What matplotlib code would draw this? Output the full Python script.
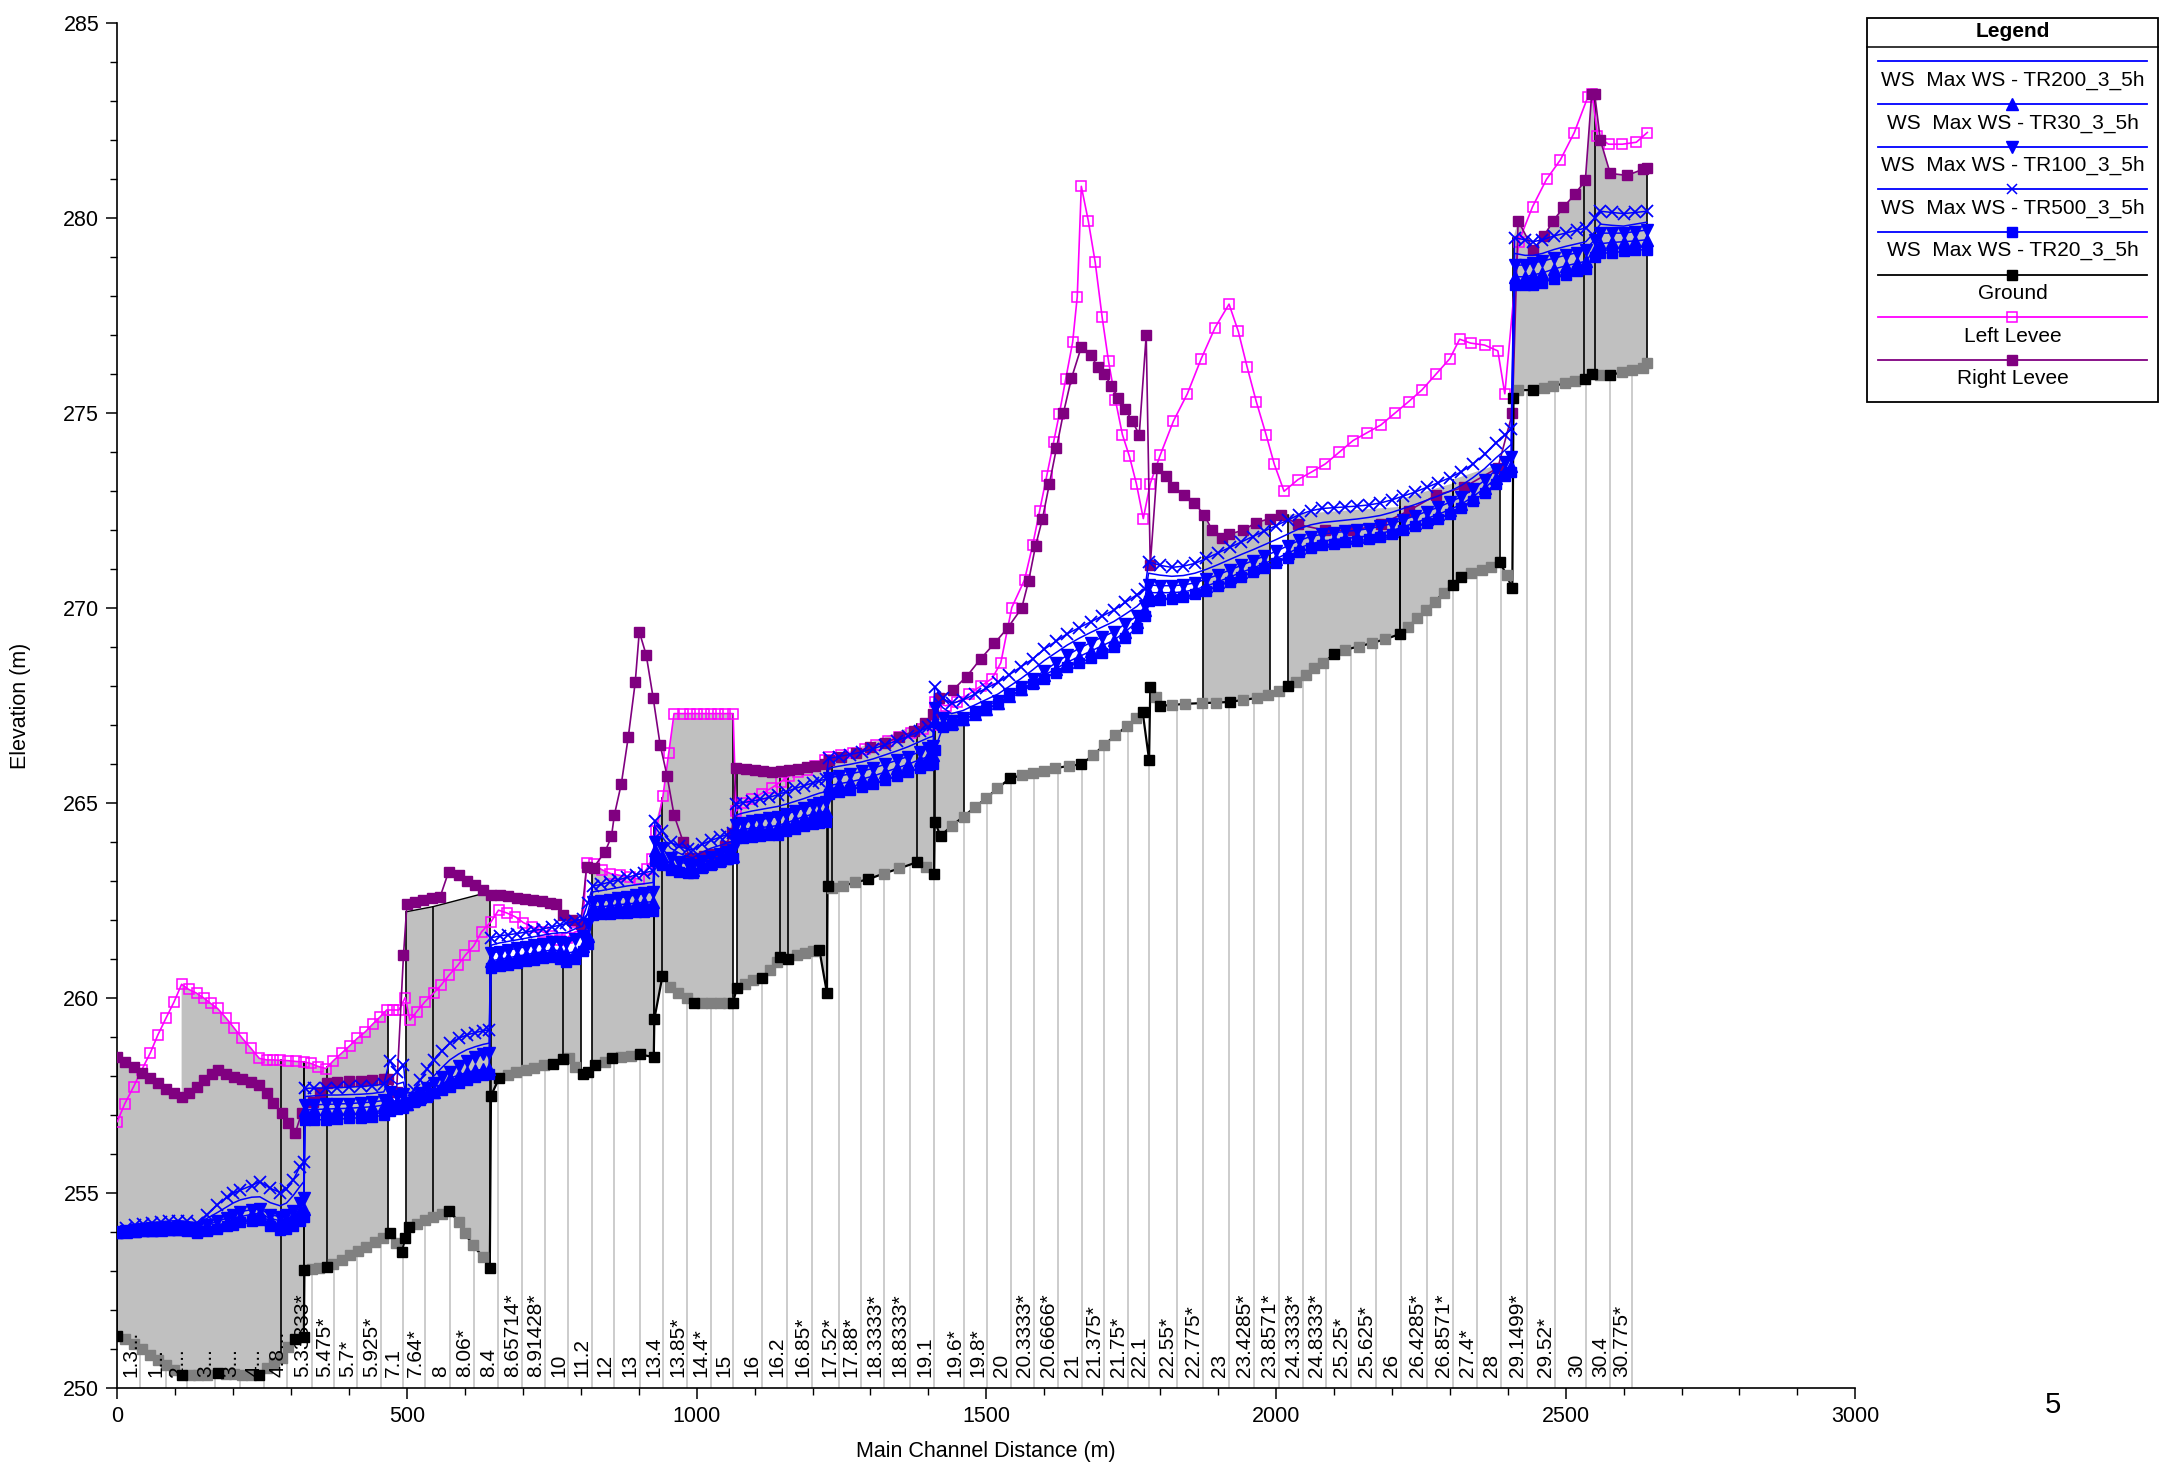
import numpy as np
import matplotlib
matplotlib.use("Agg")
import matplotlib.pyplot as plt
from matplotlib.lines import Line2D
from matplotlib.patches import Polygon, Rectangle
from matplotlib.ticker import MultipleLocator

plt.rcParams['font.family'] = ['Liberation Sans', 'DejaVu Sans']

# ---------------- data ----------------
GROUND_X = [0, 13, 28, 42, 56, 71, 84, 98, 111, 126,
            140, 154, 173, 187, 201, 215, 230, 245, 258, 270,
            284, 295, 307, 322, 323, 336, 349, 362, 373, 387,
            402, 416, 430, 445, 459, 471, 481, 491, 497, 504,
            517, 531, 545, 560, 573, 589, 600, 614, 631, 643,
            645, 659, 674, 689, 705, 720, 736, 752, 770, 779,
            790, 804, 813, 825, 842, 854, 870, 887, 903, 926,
            927, 941, 954, 968, 983, 996, 1010, 1025, 1040, 1055,
            1063, 1069, 1083, 1098, 1112, 1127, 1138, 1144, 1158, 1173,
            1187, 1201, 1212, 1225, 1226, 1233, 1253, 1273, 1296, 1323,
            1350, 1380, 1396, 1410, 1411, 1421, 1440, 1461, 1481, 1500,
            1519, 1541, 1562, 1581, 1600, 1619, 1643, 1664, 1685, 1704,
            1723, 1743, 1758, 1770, 1781, 1783, 1793, 1799, 1820, 1843,
            1873, 1897, 1920, 1943, 1967, 1986, 2005, 2020, 2035, 2051,
            2066, 2082, 2100, 2120, 2143, 2166, 2189, 2214, 2228, 2244,
            2259, 2274, 2290, 2305, 2319, 2336, 2355, 2371, 2386, 2398,
            2408, 2410, 2418, 2444, 2462, 2479, 2499, 2516, 2534, 2545,
            2560, 2577, 2597, 2615, 2634, 2641]
GROUND_Z = [251.35, 251.26, 251.13, 251.0, 250.85, 250.73, 250.6, 250.47, 250.34, 250.33,
            250.33, 250.35, 250.38, 250.37, 250.36, 250.35, 250.34, 250.33, 250.51, 250.64,
            250.77, 251.07, 251.26, 251.31, 253.03, 253.06, 253.08, 253.1, 253.18, 253.29,
            253.41, 253.52, 253.63, 253.74, 253.85, 253.97, 253.72, 253.5, 253.85, 254.14,
            254.22, 254.31, 254.4, 254.48, 254.55, 254.27, 253.97, 253.67, 253.37, 253.08,
            257.5, 257.95, 258.03, 258.1, 258.17, 258.22, 258.28, 258.32, 258.44, 258.48,
            258.25, 258.05, 258.1, 258.28, 258.36, 258.46, 258.5, 258.53, 258.56, 258.49,
            259.47, 260.57, 260.28, 260.13, 260.0, 259.88, 259.88, 259.88, 259.88, 259.88,
            259.88, 260.26, 260.37, 260.47, 260.52, 260.72, 260.92, 261.06, 261.01, 261.11,
            261.16, 261.21, 261.23, 260.13, 262.88, 262.83, 262.88, 262.97, 263.05, 263.2,
            263.33, 263.49, 263.37, 263.19, 264.53, 264.16, 264.42, 264.66, 264.91, 265.13,
            265.38, 265.64, 265.72, 265.77, 265.84, 265.9, 265.96, 266.0, 266.24, 266.5,
            266.75, 266.98, 267.18, 267.33, 266.11, 267.97, 267.73, 267.5, 267.52, 267.55,
            267.57, 267.58, 267.6, 267.65, 267.7, 267.78, 267.87, 268.0, 268.12, 268.29,
            268.46, 268.59, 268.83, 268.94, 269.02, 269.11, 269.21, 269.34, 269.53, 269.74,
            269.96, 270.17, 270.4, 270.6, 270.81, 270.9, 270.98, 271.07, 271.2, 270.85,
            270.51, 275.4, 275.59, 275.6, 275.65, 275.7, 275.77, 275.83, 275.88, 276.01,
            275.98, 275.98, 276.05, 276.1, 276.16, 276.3]
GROUND_REAL = [1, 0, 0, 0, 0, 0, 0, 0, 1, 0,
               0, 0, 1, 0, 0, 0, 0, 1, 0, 0,
               0, 0, 1, 1, 1, 0, 0, 1, 0, 0,
               0, 0, 0, 0, 0, 1, 0, 1, 1, 1,
               0, 0, 0, 0, 1, 0, 0, 0, 0, 1,
               1, 1, 0, 0, 0, 0, 0, 1, 1, 0,
               0, 1, 1, 1, 0, 1, 0, 0, 1, 1,
               1, 1, 0, 0, 0, 1, 0, 0, 0, 0,
               1, 1, 0, 0, 1, 0, 0, 1, 1, 0,
               0, 0, 1, 1, 1, 0, 0, 0, 1, 0,
               0, 1, 0, 1, 1, 1, 0, 0, 0, 0,
               0, 1, 0, 0, 0, 0, 0, 1, 0, 0,
               0, 0, 0, 1, 1, 1, 0, 1, 0, 0,
               0, 0, 1, 0, 0, 0, 0, 1, 0, 0,
               0, 0, 1, 0, 0, 0, 0, 1, 0, 0,
               0, 0, 0, 1, 1, 0, 0, 0, 1, 0,
               1, 1, 0, 1, 0, 0, 0, 0, 1, 1,
               0, 1, 0, 0, 0, 0]

LL_X = [0, 13, 28, 42, 57, 70, 84, 98, 111, 123,
        137, 150, 161, 173, 188, 202, 216, 230, 245, 258,
        269, 281, 295, 309, 322, 334, 347, 360, 373, 387,
        401, 414, 428, 441, 454, 465, 476, 486, 497, 505,
        517, 531, 546, 559, 573, 588, 601, 615, 629, 645,
        658, 672, 687, 701, 715, 735, 750, 764, 776, 790,
        803, 810, 822, 836, 851, 868, 885, 900, 914, 923,
        930, 942, 952, 961, 977, 989, 1001, 1013, 1025, 1037,
        1049, 1063, 1068, 1080, 1095, 1112, 1130, 1145, 1160, 1175,
        1190, 1205, 1222, 1228, 1250, 1270, 1290, 1310, 1330, 1350,
        1370, 1390, 1408, 1411, 1430, 1450, 1470, 1490, 1510, 1525,
        1544, 1566, 1580, 1592, 1604, 1616, 1626, 1637, 1649, 1657,
        1664, 1676, 1688, 1700, 1711, 1723, 1735, 1747, 1759, 1771,
        1783, 1800, 1823, 1847, 1871, 1895, 1919, 1935, 1950, 1966,
        1983, 1997, 2014, 2038, 2062, 2085, 2109, 2133, 2157, 2181,
        2205, 2229, 2252, 2276, 2300, 2317, 2336, 2360, 2383, 2395,
        2419, 2443, 2467, 2491, 2515, 2538, 2546, 2555, 2574, 2598,
        2622, 2641]
LL_Z = [256.84, 257.3, 257.73, 258.16, 258.6, 259.06, 259.49, 259.91, 260.36, 260.23,
        260.13, 260.0, 259.87, 259.74, 259.49, 259.23, 258.97, 258.73, 258.46, 258.42,
        258.42, 258.41, 258.4, 258.38, 258.37, 258.33, 258.25, 258.2, 258.4, 258.59,
        258.78, 258.97, 259.14, 259.34, 259.53, 259.7, 259.7, 259.7, 260.02, 259.44,
        259.66, 259.91, 260.13, 260.34, 260.6, 260.85, 261.11, 261.34, 261.71, 261.96,
        262.26, 262.19, 262.09, 261.94, 261.84, 261.7, 261.6, 261.5, 261.55, 261.7,
        261.75, 263.47, 263.44, 263.3, 263.2, 263.15, 263.1, 263.06, 263.32, 263.56,
        264.3, 265.2, 266.3, 267.3, 267.3, 267.3, 267.3, 267.3, 267.3, 267.3,
        267.3, 267.3, 264.8, 265.0, 265.1, 265.25, 265.4, 265.55, 265.7, 265.8,
        265.85, 265.95, 266.1, 266.2, 266.25, 266.3, 266.4, 266.5, 266.6, 266.7,
        266.8, 266.9, 267.0, 267.6, 267.5, 267.6, 267.8, 268.0, 268.2, 268.6,
        270.02, 270.73, 271.62, 272.5, 273.39, 274.27, 274.98, 275.87, 276.82, 277.99,
        280.82, 279.94, 278.87, 277.46, 276.33, 275.33, 274.45, 273.9, 273.2, 272.3,
        273.2, 273.92, 274.8, 275.5, 276.4, 277.2, 277.8, 277.1, 276.2, 275.3,
        274.45, 273.7, 273.0, 273.3, 273.5, 273.7, 274.0, 274.3, 274.5, 274.7,
        275.0, 275.3, 275.6, 276.0, 276.4, 276.9, 276.8, 276.75, 276.6, 275.5,
        279.4, 280.3, 281.0, 281.5, 282.2, 283.1, 283.2, 282.1, 281.9, 281.9,
        281.95, 282.2]

RL_X = [0, 13, 28, 42, 57, 70, 84, 98, 111, 123,
        137, 150, 163, 173, 188, 202, 216, 230, 245, 258,
        269, 284, 295, 307, 318, 338, 350, 362, 380, 400,
        420, 440, 460, 468, 482, 494, 500, 514, 528, 543,
        557, 572, 589, 603, 617, 632, 645, 661, 675, 690,
        704, 718, 733, 747, 758, 770, 785, 800, 810, 822,
        842, 853, 858, 870, 882, 894, 901, 913, 925, 937,
        949, 961, 977, 989, 1001, 1013, 1025, 1037, 1049, 1061,
        1068, 1085, 1100, 1115, 1130, 1145, 1160, 1175, 1190, 1205,
        1222, 1228, 1250, 1275, 1300, 1325, 1350, 1375, 1395, 1408,
        1418, 1442, 1466, 1490, 1514, 1537, 1561, 1573, 1585, 1597,
        1609, 1621, 1633, 1647, 1664, 1680, 1692, 1704, 1716, 1728,
        1740, 1752, 1764, 1776, 1783, 1795, 1811, 1823, 1842, 1859,
        1876, 1890, 1907, 1919, 1943, 1966, 1990, 2009, 2038, 2085,
        2133, 2181, 2229, 2276, 2324, 2383, 2408, 2418, 2444, 2462,
        2479, 2496, 2516, 2534, 2545, 2550, 2560, 2577, 2606, 2634,
        2641]
RL_Z = [258.5, 258.37, 258.25, 258.09, 257.95, 257.82, 257.67, 257.56, 257.48, 257.56,
        257.73, 257.9, 258.07, 258.16, 258.07, 257.99, 257.92, 257.86, 257.78, 257.56,
        257.32, 257.05, 256.8, 256.54, 257.05, 257.35, 257.56, 257.82, 257.85, 257.87,
        257.88, 257.9, 257.92, 257.92, 257.6, 261.11, 262.42, 262.48, 262.53, 262.57,
        262.59, 263.25, 263.15, 263.0, 262.9, 262.78, 262.64, 262.65, 262.62, 262.58,
        262.55, 262.53, 262.5, 262.45, 262.42, 262.14, 262.0, 261.9, 263.37, 263.35,
        263.76, 264.15, 264.7, 265.5, 266.7, 268.1, 269.4, 268.8, 267.7, 266.5,
        265.7, 264.7, 264.0, 263.6, 263.6, 263.65, 263.7, 263.7, 263.9, 264.25,
        265.9, 265.88, 265.85, 265.83, 265.8, 265.82, 265.85, 265.88, 265.92, 265.96,
        266.0, 266.1, 266.2, 266.3, 266.45, 266.55, 266.7, 266.85, 267.05, 267.3,
        267.7, 267.9, 268.25, 268.7, 269.1, 269.5, 270.0, 270.7, 271.6, 272.3,
        273.2, 274.1, 275.0, 275.9, 276.7, 276.5, 276.2, 276.0, 275.7, 275.4,
        275.1, 274.8, 274.45, 277.0, 271.1, 273.6, 273.4, 273.1, 272.9, 272.7,
        272.4, 272.0, 271.8, 271.9, 272.0, 272.2, 272.3, 272.4, 272.15, 272.0,
        272.0, 272.15, 272.5, 272.9, 273.1, 273.6, 275.0, 279.94, 279.2, 279.54,
        279.94, 280.28, 280.62, 280.97, 283.2, 283.2, 282.0, 281.15, 281.1, 281.26,
        281.3]

WS_X = [0, 15, 30, 45, 60, 75, 90, 105, 120, 137, 154, 172, 189, 200, 212, 232, 246, 264, 281, 292, 304, 315, 322,
        324, 340, 360, 380, 400, 420, 440, 460, 470, 483, 494,
        500, 512, 523, 535, 546, 560, 574, 589, 603, 618, 632, 642,
        645, 660, 675, 690, 705, 720, 735, 750, 765, 775, 790, 803,
        812, 821, 835, 850, 865, 880, 895, 910, 925,
        928, 940, 955, 970, 985, 994, 1010, 1025, 1040, 1052, 1062,
        1068, 1080, 1095, 1110, 1125, 1140, 1155, 1170, 1185, 1200, 1212, 1223,
        1228, 1245, 1265, 1285, 1305, 1325, 1345, 1365, 1385, 1400, 1408,
        1411, 1425, 1440, 1460, 1480, 1500, 1520, 1540, 1560, 1580, 1600, 1620, 1640, 1660, 1680, 1700, 1720, 1740, 1760, 1774,
        1780, 1800, 1820, 1840, 1860, 1880, 1900, 1920, 1940, 1960, 1980, 2000, 2020, 2040, 2060, 2080, 2100,
        2120, 2140, 2160, 2180, 2200, 2220, 2240, 2260, 2280, 2300, 2320, 2340, 2360, 2380, 2395, 2406,
        2412, 2430, 2444, 2460, 2480, 2500, 2520, 2535, 2550, 2560, 2580, 2600, 2620, 2640]

WS_TR500 = [254.03, 254.12, 254.18, 254.22, 254.25, 254.27, 254.29, 254.3, 254.28, 254.24, 254.45, 254.7, 254.9, 255.0, 255.08, 255.2, 255.3, 255.13, 255.02, 255.1, 255.35, 255.68, 255.8,
            257.69, 257.7, 257.7, 257.71, 257.72, 257.74, 257.76, 257.8, 258.4, 258.1, 258.3,
            257.39, 257.65, 257.9, 258.2, 258.42, 258.65, 258.85, 258.97, 259.06, 259.12, 259.17, 259.19,
            261.55, 261.6, 261.63, 261.66, 261.7, 261.74, 261.78, 261.83, 261.88, 261.92, 261.98, 262.04,
            262.44, 262.88, 262.92, 262.98, 263.04, 263.1, 263.16, 263.22, 263.27,
            264.55, 264.3, 264.0, 263.9, 263.82, 263.81, 263.95, 264.05, 264.13, 264.2, 264.25,
            264.99, 265.02, 265.05, 265.1, 265.15, 265.22, 265.3, 265.38, 265.45, 265.52, 265.58, 265.62,
            266.15, 266.2, 266.25, 266.32, 266.4, 266.5, 266.6, 266.72, 266.85, 266.95, 267.0,
            267.99, 267.69, 267.56, 267.65, 267.8, 267.95, 268.1, 268.3, 268.5, 268.7, 268.95, 269.15, 269.35, 269.5, 269.65, 269.8, 269.95, 270.15, 270.35, 270.5,
            271.2, 271.1, 271.05, 271.08, 271.15, 271.28, 271.42, 271.56, 271.7, 271.84, 271.98, 272.12, 272.26, 272.4, 272.5, 272.56, 272.58,
            272.6, 272.62, 272.65, 272.7, 272.78, 272.88, 272.98, 273.1, 273.22, 273.35, 273.5, 273.7, 273.95, 274.25, 274.45, 274.6,
            279.5, 279.45, 279.4, 279.45, 279.55, 279.62, 279.7, 279.75, 280.0, 280.18, 280.15, 280.12, 280.15, 280.18]
WS_TR200 = [254.02, 254.07, 254.1, 254.13, 254.15, 254.17, 254.18, 254.19, 254.19, 254.22, 254.35, 254.5, 254.65, 254.75, 254.83, 254.9, 254.91, 254.76, 254.68, 254.75, 254.95, 255.17, 255.3,
            257.48, 257.5, 257.52, 257.52, 257.53, 257.54, 257.56, 257.6, 257.95, 257.8, 257.85,
            257.35, 257.5, 257.65, 257.85, 258.0, 258.22, 258.42, 258.57, 258.68, 258.76, 258.82, 258.85,
            261.36, 261.42, 261.46, 261.5, 261.54, 261.58, 261.62, 261.66, 261.68, 261.68, 261.78, 261.85,
            262.2, 262.73, 262.76, 262.8, 262.84, 262.88, 262.91, 262.94, 262.97,
            264.4, 264.15, 263.85, 263.72, 263.63, 263.61, 263.75, 263.85, 263.92, 263.98, 264.03,
            264.7, 264.75, 264.8, 264.84, 264.88, 264.92, 264.98, 265.05, 265.12, 265.2, 265.26, 265.3,
            265.9, 265.95, 266.0, 266.06, 266.14, 266.24, 266.34, 266.45, 266.58, 266.68, 266.72,
            267.7, 267.45, 267.3, 267.38, 267.52, 267.66, 267.8, 268.0, 268.2, 268.42, 268.66, 268.86, 269.06, 269.23, 269.38, 269.52, 269.66, 269.85, 270.05, 270.25,
            270.9, 270.85, 270.82, 270.84, 270.9, 271.0, 271.12, 271.25, 271.38, 271.5, 271.63, 271.76, 271.9, 272.04, 272.14, 272.2, 272.23,
            272.26, 272.29, 272.33, 272.38, 272.46, 272.56, 272.66, 272.77, 272.88, 273.0, 273.15, 273.35, 273.58, 273.86, 274.05, 274.2,
            279.1, 279.05, 279.05, 279.1, 279.2, 279.28, 279.35, 279.4, 279.65, 279.85, 279.82, 279.8, 279.85, 279.9]
WS_TR100 = [254.01, 254.04, 254.06, 254.08, 254.1, 254.11, 254.12, 254.13, 254.12, 254.1, 254.18, 254.28, 254.36, 254.45, 254.53, 254.58, 254.6, 254.45, 254.4, 254.45, 254.55, 254.75, 254.87,
            257.26, 257.27, 257.28, 257.29, 257.3, 257.32, 257.34, 257.38, 257.6, 257.5, 257.55,
            257.32, 257.45, 257.56, 257.7, 257.82, 257.97, 258.12, 258.27, 258.4, 258.5, 258.56, 258.6,
            261.16, 261.2, 261.24, 261.28, 261.32, 261.36, 261.4, 261.44, 261.45, 261.42, 261.52, 261.6,
            261.9, 262.48, 262.5, 262.53, 262.57, 262.61, 262.65, 262.69, 262.73,
            264.0, 263.85, 263.6, 263.5, 263.44, 263.42, 263.52, 263.62, 263.7, 263.76, 263.8,
            264.45, 264.5, 264.55, 264.58, 264.62, 264.66, 264.72, 264.8, 264.88, 264.95, 265.0, 265.04,
            265.65, 265.7, 265.75, 265.82, 265.9, 266.0, 266.1, 266.2, 266.32, 266.42, 266.46,
            267.45, 267.2, 267.1, 267.2, 267.34, 267.48, 267.62, 267.8, 267.98, 268.18, 268.4, 268.6, 268.8, 268.97, 269.12, 269.26, 269.4, 269.6, 269.8, 270.05,
            270.6, 270.58, 270.58, 270.6, 270.65, 270.75, 270.86, 270.98, 271.1, 271.22, 271.34, 271.46, 271.6, 271.74, 271.84, 271.9, 271.94,
            271.97, 272.0, 272.04, 272.1, 272.17, 272.27, 272.37, 272.48, 272.59, 272.72, 272.86, 273.05, 273.28, 273.55, 273.74, 273.88,
            278.8, 278.8, 278.86, 278.9, 278.98, 279.05, 279.12, 279.2, 279.45, 279.62, 279.62, 279.62, 279.66, 279.7]
WS_TR30 = [254.0, 254.02, 254.04, 254.05, 254.06, 254.07, 254.08, 254.09, 254.08, 254.05, 254.1, 254.18, 254.25, 254.32, 254.4, 254.46, 254.49, 254.35, 254.3, 254.33, 254.42, 254.55, 254.6,
           257.14, 257.15, 257.16, 257.17, 257.18, 257.2, 257.22, 257.26, 257.4, 257.35, 257.4,
           257.3, 257.4, 257.48, 257.55, 257.6, 257.78, 257.95, 258.03, 258.1, 258.15, 258.18, 258.2,
           260.96, 261.0, 261.04, 261.08, 261.12, 261.16, 261.2, 261.24, 261.22, 261.15, 261.2, 261.35,
           261.6, 262.34, 262.35, 262.37, 262.4, 262.42, 262.44, 262.46, 262.48,
           263.81, 263.65, 263.45, 263.35, 263.3, 263.28, 263.4, 263.48, 263.55, 263.6, 263.65,
           264.3, 264.33, 264.36, 264.38, 264.4, 264.43, 264.5, 264.58, 264.66, 264.72, 264.76, 264.8,
           265.45, 265.5, 265.55, 265.62, 265.7, 265.8, 265.9, 266.0, 266.12, 266.2, 266.24,
           267.1, 267.05, 267.05, 267.15, 267.28, 267.42, 267.56, 267.74, 267.92, 268.1, 268.28, 268.45, 268.62, 268.76, 268.9, 269.04, 269.18, 269.4, 269.65, 269.95,
           270.4, 270.4, 270.4, 270.42, 270.48, 270.57, 270.68, 270.8, 270.92, 271.03, 271.15, 271.27, 271.41, 271.55, 271.65, 271.72, 271.76,
           271.79, 271.82, 271.86, 271.92, 271.99, 272.09, 272.19, 272.3, 272.41, 272.53, 272.67, 272.86, 273.08, 273.34, 273.52, 273.66,
           278.5, 278.5, 278.55, 278.6, 278.7, 278.78, 278.85, 278.9, 279.2, 279.35, 279.38, 279.4, 279.42, 279.45]
WS_TR20 = [253.98, 254.0, 254.02, 254.03, 254.04, 254.05, 254.06, 254.06, 254.03, 253.99, 254.03, 254.08, 254.15, 254.2, 254.26, 254.3, 254.32, 254.15, 254.06, 254.08, 254.15, 254.3, 254.4,
           256.88, 256.88, 256.89, 256.9, 256.92, 256.94, 256.96, 257.0, 257.1, 257.15, 257.2,
           257.27, 257.33, 257.4, 257.48, 257.56, 257.65, 257.73, 257.82, 257.9, 257.97, 258.03, 258.07,
           260.77, 260.82, 260.86, 260.9, 260.95, 260.99, 261.03, 261.07, 261.0, 260.92, 261.0, 261.21,
           261.4, 262.14, 262.15, 262.17, 262.19, 262.2, 262.21, 262.22, 262.24,
           263.52, 263.42, 263.3, 263.25, 263.22, 263.22, 263.35, 263.43, 263.5, 263.56, 263.61,
           264.1, 264.12, 264.14, 264.16, 264.18, 264.2, 264.28, 264.35, 264.42, 264.46, 264.5, 264.53,
           265.25, 265.3, 265.35, 265.42, 265.5, 265.6, 265.7, 265.8, 265.9, 265.98, 266.02,
           266.37, 266.95, 267.0, 267.14, 267.28, 267.4, 267.55, 267.75, 267.9, 268.05, 268.2, 268.35, 268.5, 268.6, 268.72, 268.85, 269.0, 269.25, 269.5, 269.8,
           270.2, 270.22, 270.25, 270.3, 270.36, 270.45, 270.56, 270.68, 270.8, 270.92, 271.04, 271.16, 271.3, 271.44, 271.55, 271.62, 271.66,
           271.7, 271.73, 271.77, 271.83, 271.9, 272.0, 272.1, 272.2, 272.3, 272.42, 272.56, 272.74, 272.96, 273.2, 273.38, 273.5,
           278.3, 278.3, 278.3, 278.35, 278.45, 278.55, 278.65, 278.71, 279.0, 279.1, 279.12, 279.15, 279.18, 279.2]

# gray filled structure areas: top boundary of each (bottom = ground)
FILL_A_X = [0, 13, 28, 42, 57, 70, 84, 98, 111, 111, 123, 137, 150, 161, 173, 188, 202, 216, 230, 245, 258, 269, 281, 295, 309, 322]
FILL_A_Z = [258.5, 258.37, 258.25, 258.09, 257.95, 257.82, 257.67, 257.56, 257.48, 260.36, 260.23, 260.13, 260.0, 259.87, 259.74, 259.49, 259.23, 258.97, 258.73, 258.46, 258.42, 258.42, 258.41, 258.4, 258.38, 258.37]
FILL_B_X = [323, 334, 347, 360, 373, 387, 401, 414, 428, 441, 454, 465, 468]
FILL_B_Z = [258.37, 258.33, 258.25, 258.2, 258.4, 258.59, 258.78, 258.97, 259.14, 259.34, 259.53, 259.7, 259.7]
FILL_C_X = [499, 545, 643]
FILL_C_Z = [262.22, 262.35, 262.73]
FILL_D_X = [645, 660, 690, 720, 750, 775, 801]
FILL_D_Z = [260.75, 260.8, 260.88, 260.97, 261.05, 260.9, 261.1]
FILL_E_X = [819, 836, 851, 868, 885, 900, 914, 926]
FILL_E_Z = [263.44, 263.3, 263.2, 263.15, 263.1, 263.06, 263.2, 263.3]
FILL_F_X = [927, 942, 952, 961, 1063]
FILL_F_Z = [264.4, 265.2, 266.3, 267.3, 267.3]
FILL_G_X = [1069, 1225]
FILL_G_Z = [265.88, 266.0]
FILL_H_X = [1226, 1409]
FILL_H_Z = [266.1, 267.2]
FILL_I_X = [1411, 1461]
FILL_I_Z = [267.4, 267.3]
FILL_J_X = [1874, 1890, 1907, 1919, 1943, 1966, 1990]
FILL_J_Z = [272.4, 272.0, 271.8, 271.9, 272.0, 272.2, 272.3]
FILL_K_X = [2020, 2214]
FILL_K_Z = [272.4, 272.6]
FILL_L_X = [2214, 2305]
FILL_L_Z = [272.8, 273.2]
FILL_M_X = [2305, 2386]
FILL_M_Z = [273.3, 273.7]
FILL_N_X = [2410, 2418, 2444, 2462, 2479, 2496, 2516, 2534, 2545, 2550, 2560, 2577, 2606, 2634, 2641]
FILL_N_Z = [279.5, 279.94, 279.2, 279.54, 279.94, 280.28, 280.62, 280.97, 283.2, 283.2, 282.0, 281.15, 281.1, 281.26, 281.3]
INNER_LINES_X = [282, 362, 545, 698, 770, 804, 813, 941, 1144, 1158, 1233, 1380, 2531, 2550]

SEC_LABELS = ["1.3...", "1...", "2...", "3...", "3...", "4...", "4.8...", "5.33333*", "5.475*", "5.7*",
              "5.925*", "7.1", "7.64*", "8", "8.06*", "8.4", "8.65714*", "8.91428*", "10", "11.2",
              "12", "13", "13.4", "13.85*", "14.4*", "15", "16", "16.2", "16.85*", "17.52*",
              "17.88*", "18.3333*", "18.8333*", "19.1", "19.6*", "19.8*", "20", "20.3333*", "20.6666*", "21",
              "21.375*", "21.75*", "22.1", "22.55*", "22.775*", "23", "23.4285*", "23.8571*", "24.3333*", "24.8333*",
              "25.25*", "25.625*", "26", "26.4285*", "26.8571*", "27.4*", "28", "29.1499*", "29.52*", "30",
              "30.4", "30.775*"]
SEC_X = [40, 83.5, 121, 169, 212, 253, 293, 336.6, 374.6, 414,
         455, 493, 531.7, 573.8, 615.7, 657.7, 699, 738, 778.5, 819,
         857.5, 902, 942.5, 984, 1024.3, 1063, 1112, 1155.5, 1199.7, 1246.4,
         1283.3, 1324, 1368, 1410.4, 1461.6, 1502, 1542.2, 1583, 1624.4, 1664.7,
         1703.8, 1744, 1781.4, 1829.7, 1874.6, 1919.5, 1962.7, 2005.3, 2047.3, 2086.5,
         2129, 2172.3, 2215.4, 2260.3, 2305.2, 2346.6, 2388, 2433, 2481.3, 2534.8,
         2576.2, 2614]

LEGEND_LABELS = ["WS  Max WS - TR200_3_5h", "WS  Max WS - TR30_3_5h", "WS  Max WS - TR100_3_5h",
                 "WS  Max WS - TR500_3_5h", "WS  Max WS - TR20_3_5h", "Ground", "Left Levee", "Right Levee"]

# ---------------- figure ----------------
W, H = 2165, 1468
fig = plt.figure(figsize=(W / 100, H / 100), dpi=100)
AX_L, AX_R, AX_T, AX_B = 117.3, 1855.3, 23.3, 1388.3
ax = fig.add_axes([AX_L / W, 1 - AX_B / H, (AX_R - AX_L) / W, (AX_B - AX_T) / H])
ax.set_xlim(0, 3000)
ax.set_ylim(250, 285)

gx = np.array(GROUND_X, float)
gz = np.array(GROUND_Z, float)


def ground_at(x):
    return np.interp(x, gx, gz)


BLUE = '#0000FF'
MAG = '#FF00FF'
PURP = '#800080'
GRAYFILL = '#C0C0C0'

# section lines
sx = np.array(SEC_X, float)
ax.vlines(sx, 250, ground_at(sx), colors='#C8C8C8', lw=1.3, zorder=1)

# gray structure fills
fills = [(FILL_A_X, FILL_A_Z), (FILL_B_X, FILL_B_Z), (FILL_C_X, FILL_C_Z), (FILL_D_X, FILL_D_Z),
         (FILL_E_X, FILL_E_Z), (FILL_F_X, FILL_F_Z), (FILL_G_X, FILL_G_Z), (FILL_H_X, FILL_H_Z),
         (FILL_I_X, FILL_I_Z), (FILL_J_X, FILL_J_Z), (FILL_K_X, FILL_K_Z), (FILL_L_X, FILL_L_Z),
         (FILL_M_X, FILL_M_Z), (FILL_N_X, FILL_N_Z)]
for fx, fz in fills:
    x0, x1 = fx[0], fx[-1]
    inner = [(x, z) for x, z in zip(GROUND_X, GROUND_Z) if x0 < x < x1]
    bottom = [(x1, ground_at(x1))] + inner[::-1] + [(x0, ground_at(x0))]
    pts = list(zip(fx, fz)) + bottom
    ax.add_patch(Polygon(pts, closed=True, facecolor=GRAYFILL, edgecolor='none', zorder=2))
    for xe, ze in ((x0, fz[0]), (x1, fz[-1])):
        ax.plot([xe, xe], [ground_at(xe), ze], color='black', lw=1.2, zorder=3)
for xl in INNER_LINES_X:
    for fx, fz in fills:
        if fx[0] <= xl <= fx[-1]:
            ax.plot([xl, xl], [ground_at(xl), np.interp(xl, fx, fz)], color='black', lw=1.2, zorder=3)
ax.plot(FILL_C_X, FILL_C_Z, color='black', lw=1.0, zorder=3)

# levees
ax.plot(LL_X, LL_Z, color=MAG, lw=1.2, marker='s', ms=7.5, mfc='none', mec=MAG, mew=1.1, zorder=4)
ax.plot(RL_X, RL_Z, color=PURP, lw=1.2, marker='s', ms=6.8, mfc=PURP, mec=PURP, zorder=4)

# ground
ax.plot(GROUND_X, GROUND_Z, color='black', lw=1.6, zorder=5)
greal = np.array(GROUND_REAL) == 1
ax.plot(gx[~greal], gz[~greal], ls='none', marker='s', ms=6.8, mfc='#808080', mec='#808080', zorder=5)
ax.plot(gx[greal], gz[greal], ls='none', marker='s', ms=6.8, mfc='black', mec='black', zorder=6)

# water surfaces
ax.plot(WS_X, WS_TR500, color=BLUE, lw=1.1, marker='x', ms=8, mew=1.3, zorder=7)
ax.plot(WS_X, WS_TR200, color=BLUE, lw=1.1, zorder=7)
ax.plot(WS_X, WS_TR100, color=BLUE, lw=1.1, marker='v', ms=8, mfc=BLUE, mec=BLUE, zorder=7)
ax.plot(WS_X, WS_TR30, color=BLUE, lw=1.1, marker='^', ms=8, mfc=BLUE, mec=BLUE, zorder=7)
ax.plot(WS_X, WS_TR20, color=BLUE, lw=1.1, marker='s', ms=6.8, mfc=BLUE, mec=BLUE, zorder=7)

# station labels
for lab, x in zip(SEC_LABELS, SEC_X):
    ax.text(x, 250.28, lab, rotation=90, ha='right', va='bottom', fontsize=15, zorder=8)

# axes styling
for s in ('top', 'right'):
    ax.spines[s].set_visible(False)
for s in ('left', 'bottom'):
    ax.spines[s].set_linewidth(1.2)
ax.xaxis.set_major_locator(MultipleLocator(500))
ax.xaxis.set_minor_locator(MultipleLocator(100))
ax.yaxis.set_major_locator(MultipleLocator(5))
ax.yaxis.set_minor_locator(MultipleLocator(1))
ax.tick_params(which='major', direction='out', length=8, width=1.1, labelsize=15.5, pad=5)
ax.tick_params(which='minor', direction='out', length=5, width=1.0)
ax.set_xlabel('Main Channel Distance (m)', fontsize=15.5)
ax.set_ylabel('Elevation (m)', fontsize=15.5)
ax.xaxis.set_label_coords(0.5, -(1441 - AX_B) / (AX_B - AX_T))
ax.yaxis.set_label_coords((31 - AX_L) / (AX_R - AX_L), 0.5)


# ---------------- legend (drawn in pixel coordinates) ----------------
def fx_(px):
    return px / W


def fy_(py):
    return 1 - py / H


fig.patches.append(Rectangle((fx_(1867.3), fy_(401.7)), fx_(2157.7) - fx_(1867.3), fy_(18.3) - fy_(401.7),
                             transform=fig.transFigure, facecolor='white', edgecolor='black', lw=1.3))
fig.text(fx_(2012.5), fy_(31.5), 'Legend', ha='center', va='center', fontsize=15, fontweight='bold')
fig.lines.append(Line2D([fx_(1867.3), fx_(2157.7)], [fy_(47.3), fy_(47.3)], transform=fig.transFigure,
                        color='black', lw=1.1))
styles = [dict(color=BLUE, marker=None),
          dict(color=BLUE, marker='^', mfc=BLUE, mec=BLUE, ms=8),
          dict(color=BLUE, marker='v', mfc=BLUE, mec=BLUE, ms=8),
          dict(color=BLUE, marker='x', mec=BLUE, ms=7, mew=1.1),
          dict(color=BLUE, marker='s', mfc=BLUE, mec=BLUE, ms=6.5),
          dict(color='black', marker='s', mfc='black', mec='black', ms=6.5),
          dict(color=MAG, marker='s', mfc='none', mec=MAG, ms=7, mew=1.1),
          dict(color=PURP, marker='s', mfc=PURP, mec=PURP, ms=6.5)]
line_y = [61, 104, 146.7, 189.3, 231.7, 275, 317.3, 360]
text_y = [80, 123.3, 165, 208.3, 250.7, 293.3, 336, 378.3]
for lab, st, ly, ty in zip(LEGEND_LABELS, styles, line_y, text_y):
    st = dict(st)
    mk = st.pop('marker')
    fig.lines.append(Line2D([fx_(1877.7), fx_(2147.3)], [fy_(ly), fy_(ly)], transform=fig.transFigure,
                            color=st['color'], lw=1.3))
    if mk is not None:
        st.pop('color')
        fig.lines.append(Line2D([fx_(2012.3)], [fy_(ly)], transform=fig.transFigure, ls='none',
                                marker=mk, **st))
    fig.text(fx_(2012.5), fy_(ty), lab, ha='center', va='center', fontsize=15)

fig.text(fx_(2053), fy_(1405), '5', ha='center', va='center', fontsize=21)

fig.savefig('out.png', dpi=100)
